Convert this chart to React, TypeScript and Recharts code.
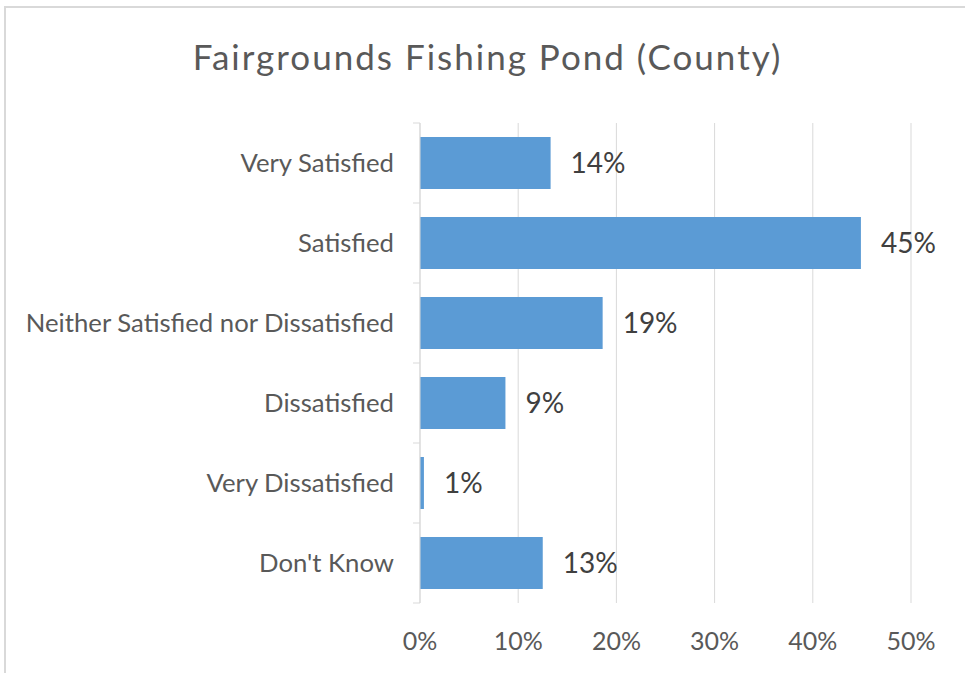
import { BarChart, Bar, XAxis, YAxis, CartesianGrid, LabelList } from "recharts";

const categories = [
  "Very Satisfied",
  "Satisfied",
  "Neither Satisfied nor Dissatisfied",
  "Dissatisfied",
  "Very Dissatisfied",
  "Don't Know",
];
const shares = [13.3, 44.9, 18.6, 8.7, 0.4, 12.5];
const shareLabels = ["14%", "45%", "19%", "9%", "1%", "13%"];
const xTicks = [0, 10, 20, 30, 40, 50];

const data = categories.map((c, i) => ({ category: c, share: shares[i], label: shareLabels[i] }));

const FONT = "Lato, 'Open Sans', sans-serif";

function CategoryTick(props: any) {
  const { x, y, payload, index } = props;
  const half = payload.offset ?? 40;
  const axisX = x + 26;
  return (
    <g>
      <line x1={axisX - 7} x2={axisX} y1={y - half} y2={y - half} stroke="#d9d9d9" />
      {index === categories.length - 1 && (
        <line x1={axisX - 7} x2={axisX} y1={y + half} y2={y + half} stroke="#d9d9d9" />
      )}
      <text x={x} y={y} dy="0.35em" textAnchor="end" fill="#595959" fontSize={25.7} fontFamily={FONT}>
        {payload.value}
      </text>
    </g>
  );
}

export default function App() {
  return (
    <div style={{ position: "absolute", left: 0, top: 0, width: 965, height: 673, overflow: "hidden", background: "#fff" }}>
      <div
        style={{
          position: "absolute",
          left: 4,
          top: 6,
          width: 1000,
          height: 700,
          border: "2px solid #d9d9d9",
          boxSizing: "border-box",
        }}
      />
      <div
        style={{
          position: "absolute",
          left: 0,
          top: 35,
          width: 975,
          textAlign: "center",
          fontFamily: FONT,
          fontSize: 35,
          letterSpacing: 2,
          lineHeight: 1.2,
          color: "#595959",
        }}
      >
        Fairgrounds Fishing Pond (County)
      </div>
      <div style={{ position: "absolute", left: 0, top: 0 }}>
        <BarChart
          width={965}
          height={673}
          data={data}
          layout="vertical"
          margin={{ top: 123, right: 54, bottom: 20, left: 0 }}
          barCategoryGap="17.5%"
        >
          <CartesianGrid horizontal={false} stroke="#d9d9d9" />
          <XAxis
            type="number"
            domain={[0, 50]}
            ticks={xTicks}
            tickFormatter={(v: number) => `${v}%`}
            axisLine={false}
            tickLine={false}
            tickMargin={23}
            height={50}
            tick={{ fill: "#595959", fontSize: 25, fontFamily: FONT }}
          />
          <YAxis
            type="category"
            dataKey="category"
            width={420}
            axisLine={{ stroke: "#d9d9d9" }}
            tickLine={false}
            tickMargin={20}
            tick={<CategoryTick />}
            interval={0}
          />
          <Bar dataKey="share" fill="#5B9BD5" isAnimationActive={false}>
            <LabelList dataKey="label" position="right" offset={20} fill="#404040" fontSize={28} fontFamily={FONT} />
          </Bar>
        </BarChart>
      </div>
    </div>
  );
}
